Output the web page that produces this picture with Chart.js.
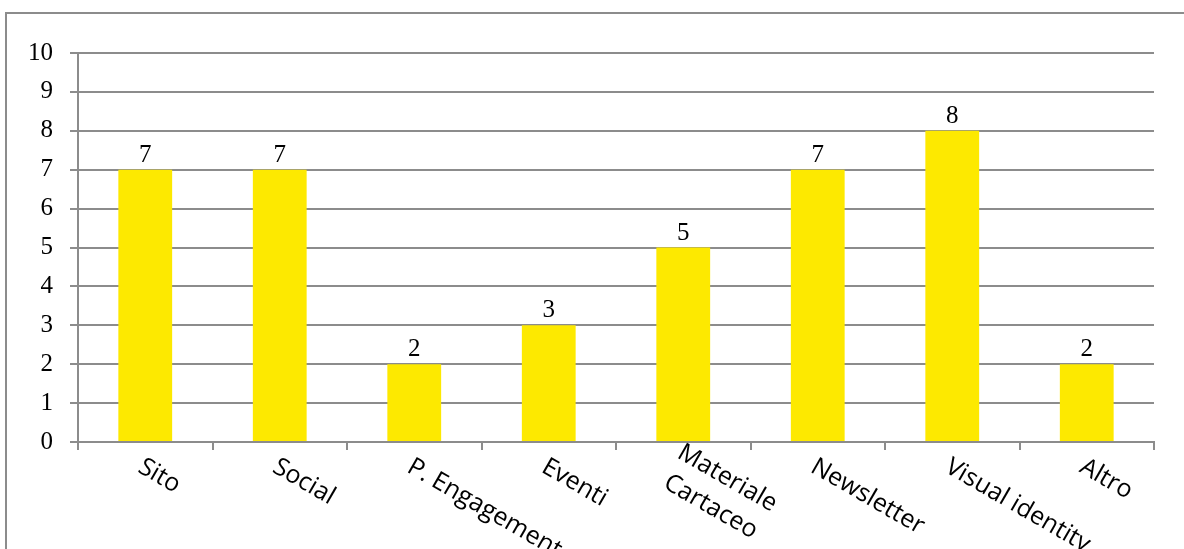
<!DOCTYPE html>
<html>
<head>
<meta charset="utf-8">
<script src="https://cdn.jsdelivr.net/npm/chart.js@4"></script>
<style>
  html, body { margin: 0; padding: 0; background: #fff; }
  #wrap { width: 1184px; height: 549px; }
</style>
</head>
<body>
<div id="wrap"><canvas id="grafica" width="1184" height="549"></canvas></div>
<script>
// Categorie (le etichette su due righe vanno come array)
const categorie = ['Sito', 'Social', 'P. Engagement', 'Eventi', ['Materiale', 'Cartaceo'], 'Newsletter', 'Visual identity', 'Altro'];
// Numero di risposte per categoria
const valori = [7, 7, 2, 3, 5, 7, 8, 2];
// Tacche dell'asse Y
const tacche = [0, 1, 2, 3, 4, 5, 6, 7, 8, 9, 10];

const grigio = '#8c8c8c';
const fontNumeri = '25px "Liberation Serif", "DejaVu Serif", serif';
const fontCategorie = '25px "Open Sans", "Noto Sans", sans-serif';

// Cornice esterna del grafico (solo lato sinistro e superiore visibili)
const cornice = {
    id: 'cornice',
    beforeDraw(chart) {
        const ctx = chart.ctx;
        ctx.save();
        ctx.strokeStyle = grigio;
        ctx.lineWidth = 2;
        ctx.beginPath();
        ctx.moveTo(6, 560);
        ctx.lineTo(6, 13);
        ctx.lineTo(1200, 13);
        ctx.stroke();
        ctx.restore();
    }
};

// Valori sopra le barre
const valoriSopra = {
    id: 'valoriSopra',
    afterDatasetsDraw(chart) {
        const ctx = chart.ctx;
        const meta = chart.getDatasetMeta(0);
        ctx.save();
        ctx.font = fontNumeri;
        ctx.fillStyle = '#000';
        ctx.textAlign = 'center';
        ctx.textBaseline = 'alphabetic';
        meta.data.forEach((barra, i) => {
            ctx.fillText(String(valori[i]), barra.x, barra.y - 8);
        });
        ctx.restore();
    }
};

// Etichette delle categorie ruotate in senso orario
const etichetteRuotate = {
    id: 'etichetteRuotate',
    afterDraw(chart) {
        const ctx = chart.ctx;
        const x = chart.scales.x;
        const angolo = 30 * Math.PI / 180;
        const interlinea = 33;
        ctx.save();
        ctx.font = fontCategorie;
        ctx.fillStyle = '#000';
        ctx.textBaseline = 'middle';
        categorie.forEach((cat, i) => {
            const righe = Array.isArray(cat) ? cat : [cat];
            const larghezza = Math.max(...righe.map(r => ctx.measureText(r).width));
            const cx = x.getPixelForValue(i);
            // le etichette su piu righe partono un po' piu a sinistra
            const spostamento = righe.length > 1 ? -12 : -5;
            ctx.save();
            ctx.translate(cx + spostamento, x.top + 23);
            ctx.rotate(angolo);
            ctx.textAlign = 'center';
            righe.forEach((r, j) => {
                const dy = (j - (righe.length - 1) / 2) * interlinea;
                ctx.fillText(r, larghezza / 2, dy);
            });
            ctx.restore();
        });
        ctx.restore();
    }
};

new Chart(document.getElementById('grafica'), {
    type: 'bar',
    data: {
        labels: categorie,
        datasets: [{
            data: valori,
            backgroundColor: '#FDE900',
            borderWidth: 0,
            barPercentage: 0.4,
            categoryPercentage: 1.0
        }]
    },
    options: {
        responsive: false,
        animation: false,
        events: [],
        layout: { padding: { left: 0, top: 53, right: 30, bottom: 0 } },
        plugins: {
            legend: { display: false },
            tooltip: { enabled: false }
        },
        scales: {
            x: {
                grid: {
                    display: true,
                    drawOnChartArea: false,
                    drawTicks: true,
                    tickLength: 8,
                    color: grigio,
                    lineWidth: 2
                },
                border: { color: grigio, width: 2 },
                ticks: { display: false },
                afterFit(scale) { scale.height = 107; }
            },
            y: {
                min: 0,
                max: 10,
                afterBuildTicks(scale) { scale.ticks = tacche.map(v => ({ value: v })); },
                grid: {
                    color: grigio,
                    lineWidth: 2,
                    tickLength: 8
                },
                border: { color: grigio, width: 2 },
                ticks: {
                    color: '#000',
                    font: { family: '"Liberation Serif", "DejaVu Serif", serif', size: 25 },
                    padding: 17
                },
                afterFit(scale) { scale.width = 78; }
            }
        }
    },
    plugins: [cornice, valoriSopra, etichetteRuotate]
});
</script>
</body>
</html>
